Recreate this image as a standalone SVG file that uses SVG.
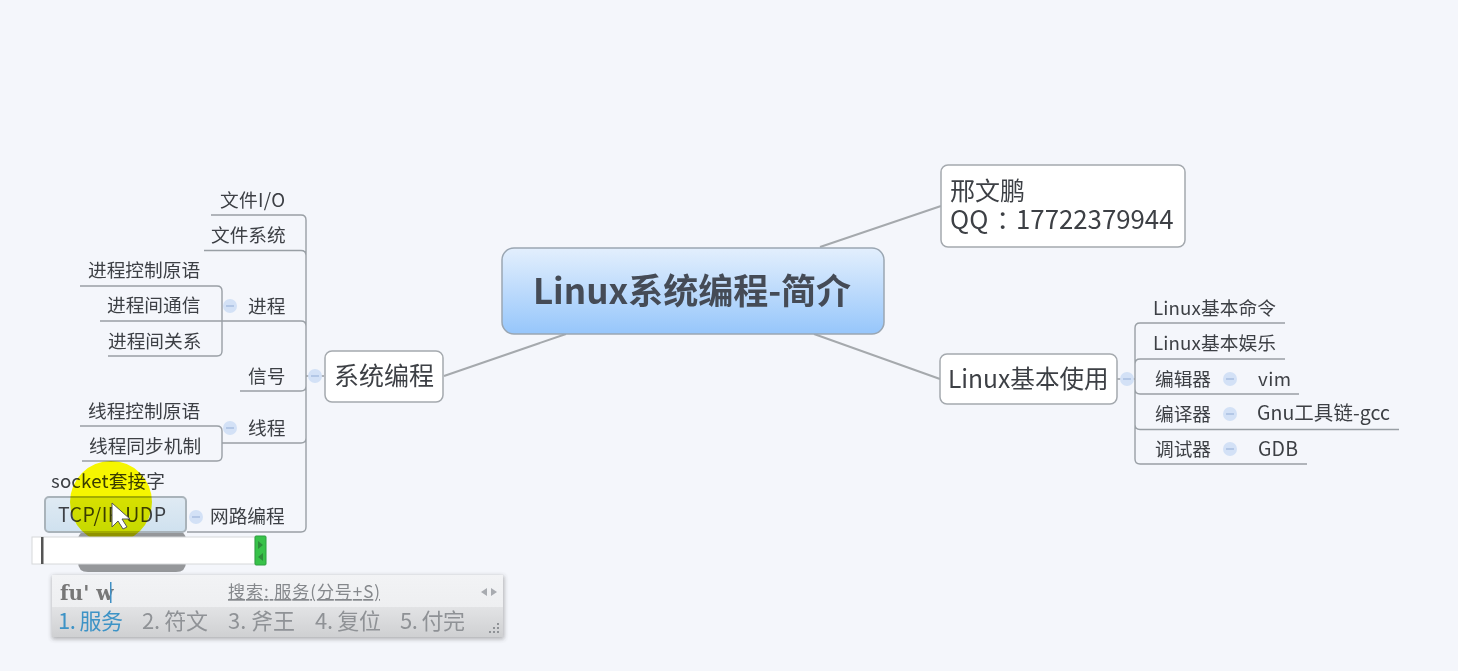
<svg xmlns="http://www.w3.org/2000/svg" width="1458" height="671" viewBox="0 0 1458 671">
<style>
text{font-family:"Noto Sans CJK SC","Noto Sans",sans-serif;fill:#3c3f44}
.s{font-size:18.7px}
.m{font-size:25px}
.l{fill:none;stroke:#999fa5;stroke-width:1.4}
.b{fill:#fff;stroke:#a4a9ae;stroke-width:1.5}
.c{fill:#d3e1f6}
.d{stroke:#9fb6dc;stroke-width:1.2}
</style>
<defs>
<linearGradient id="g" x1="0" y1="0" x2="0" y2="1"><stop offset="0" stop-color="#e3effd"/><stop offset="1" stop-color="#96c6fb"/></linearGradient>
<linearGradient id="t" x1="0" y1="0" x2="0" y2="1"><stop offset="0" stop-color="#f2f3f5"/><stop offset="1" stop-color="#eeeff1"/></linearGradient>
<linearGradient id="u" x1="0" y1="0" x2="0" y2="1"><stop offset="0" stop-color="#e2e3e5"/><stop offset="1" stop-color="#cfd0d2"/></linearGradient>
<linearGradient id="tb" x1="0" y1="0" x2="0" y2="1"><stop offset="0" stop-color="#dfeaf3"/><stop offset="1" stop-color="#cfe1ef"/></linearGradient>
<filter id="sh" x="-5%" y="-10%" width="110%" height="125%"><feGaussianBlur stdDeviation="2"/></filter>
<filter id="bl" x="0" y="0" width="1458" height="671" filterUnits="userSpaceOnUse"><feGaussianBlur stdDeviation="0.6"/></filter>
</defs>
<rect width="1458" height="671" fill="#f4f6fb"/>
<g filter="url(#bl)">
<g id="connectors">
<path class="l" d="M566 334L444 376M820 247L941 206M814 334L940 379" style="stroke:#a5a9ad;stroke-width:2"/>
<path class="l" d="M211 215H301Q306 215 306 220V527Q306 532 301 532H187M204 250.500H301Q306 250.500 306 255.500M100 321H301Q306 321 306 326M240 391H301Q306 391 306 386M222 443H301Q306 443 306 438M306 376H324"/>
<path class="l" d="M80 286H217Q222 286 222 291V351Q222 356 217 356H108M80 426H217Q222 426 222 431V456Q222 461 217 461H82"/>
<path class="l" d="M1117 379H1135M1285 323H1140Q1135 323 1135 328V459Q1135 464 1140 464H1307M1285 359H1140Q1135 359 1135 364M1299 394H1140Q1135 394 1135 389M1399 429.500H1140Q1135 429.500 1135 424.500"/>
</g>
<g id="root"><rect x="502" y="248" width="382" height="86" rx="12" fill="url(#g)" stroke="#9aa6b2" stroke-width="1.500"/><text x="692" y="304" text-anchor="middle" font-size="35" font-weight="700" style="fill:#454c57">Linux系统编程-简介</text></g>
<g id="author"><rect class="b" x="941" y="165" width="244" height="82" rx="7"/><text class="m" x="950" y="200">邢文鹏</text><text class="m" x="950" y="229" style="font-size:25.800px">QQ<tspan dx="8">：</tspan><tspan x="1016">17722379944</tspan></text></g>
<g id="sys"><rect class="b" x="325" y="351" width="118" height="51" rx="7"/><text class="m" x="334" y="385">系统编程</text></g>
<g id="basic"><rect class="b" x="940" y="354" width="177" height="50" rx="7"/><text class="m" x="948" y="388" style="font-size:24.600px">Linux基本使用</text></g>
<g id="collapse-markers">
<circle class="c" cx="315" cy="376" r="7"/><path class="d" d="M311 376H319"/>
<circle class="c" cx="230" cy="306" r="7"/><path class="d" d="M226 306H234"/>
<circle class="c" cx="230" cy="428" r="7"/><path class="d" d="M226 428H234"/>
<circle class="c" cx="196" cy="517" r="7"/><path class="d" d="M192 517H200"/>
<circle class="c" cx="1127" cy="379" r="7"/><path class="d" d="M1123 379H1131"/>
<circle class="c" cx="1230" cy="379" r="7"/><path class="d" d="M1226 379H1234"/>
<circle class="c" cx="1230" cy="414" r="7"/><path class="d" d="M1226 414H1234"/>
<circle class="c" cx="1230" cy="449" r="7"/><path class="d" d="M1226 449H1234"/>
</g>
<g id="n-file-io"><text class="s" x="220" y="207" textLength="65">文件I/O</text></g>
<g id="n-fs"><text class="s" x="211" y="242">文件系统</text></g>
<g id="n-proc"><text class="s" x="248" y="313">进程</text></g>
<g id="n-sig"><text class="s" x="248" y="383">信号</text></g>
<g id="n-thr"><text class="s" x="248" y="435">线程</text></g>
<g id="n-net"><text class="s" x="210" y="523">网路编程</text></g>
<g id="n-p1"><text class="s" x="88" y="277">进程控制原语</text></g>
<g id="n-p2"><text class="s" x="107" y="312">进程间通信</text></g>
<g id="n-p3"><text class="s" x="108" y="348">进程间关系</text></g>
<g id="n-t1"><text class="s" x="88" y="418">线程控制原语</text></g>
<g id="n-t2"><text class="s" x="89" y="453">线程同步机制</text></g>
<g id="n-l1"><text class="s" x="1153" y="315" textLength="123">Linux基本命令</text></g>
<g id="n-l2"><text class="s" x="1153" y="350" textLength="123">Linux基本娱乐</text></g>
<g id="n-l3"><text class="s" x="1155" y="386">编辑器</text></g>
<g id="n-l4"><text class="s" x="1155" y="421">编译器</text></g>
<g id="n-l5"><text class="s" x="1155" y="456">调试器</text></g>
<g id="n-vim"><text class="s" x="1258" y="386" textLength="33">vim</text></g>
<g id="n-gcc"><text class="s" x="1257" y="420" style="font-size:19.500px" textLength="133">Gnu工具链-gcc</text></g>
<g id="n-gdb"><text class="s" x="1258" y="456" style="font-size:19.500px" textLength="40">GDB</text></g>
<path d="M78 540Q78 531 88 531H176Q186 531 186 540V562Q186 572 176 572H88Q78 572 78 562Z" fill="#95979a"/>
<g id="n-socket"><text class="s" x="51" y="488" textLength="114">socket套接字</text></g>
<g id="n-tcp"><rect x="45" y="497" width="141" height="35" rx="4" fill="url(#tb)" stroke="#a9b3ba" stroke-width="2"/><text class="s" x="58" y="522" style="font-size:19.500px" textLength="108">TCP/IP UDP</text></g>
<circle cx="111" cy="502" r="41" fill="#f6f600" style="mix-blend-mode:multiply"/>
<path d="M112 503V527L118 521L123 529L127 527L122 519L130 519Z" fill="#fff" stroke="#555" stroke-width="1"/>
<g id="edit-box"><rect x="32" y="537" width="223" height="27" fill="#fff" stroke="#d6d8da"/><rect x="41" y="537" width="2.500" height="27" fill="#555"/><rect x="255" y="536" width="11" height="29" rx="1" fill="#38c24a" stroke="#2e9e3e"/><path d="M258 541L263 545L258 549ZM263 553L258 557L263 561Z" fill="#2d8c3a"/></g>
<g id="ime">
<rect x="52" y="576" width="452" height="63" fill="#555" opacity=".45" filter="url(#sh)"/>
<rect x="52" y="575" width="451" height="32" fill="url(#t)"/>
<rect x="52" y="607" width="451" height="30" fill="url(#u)"/>
<text x="60" y="600" font-size="20" font-weight="700" style='font-family:"DejaVu Serif","Liberation Serif",serif;fill:#777'>fu' w</text>
<rect x="110" y="582" width="1.500" height="21" fill="#3f8fc4"/>
<text x="228" y="598" font-size="17" text-decoration="underline" textLength="152" style="fill:#85888c">搜索: 服务(分号+S)</text>
<path d="M487 588L481 592L487 596ZM491 588L497 592L491 596Z" fill="#a8abb0"/>
<text x="58" y="629" font-size="22" textLength="65" style="fill:#3d93c6">1. 服务</text>
<text x="142" y="629" font-size="22" textLength="66" style="fill:#8f9296">2. 符文</text>
<text x="228" y="629" font-size="22" textLength="67" style="fill:#8f9296">3. 斧王</text>
<text x="315" y="629" font-size="22" textLength="66" style="fill:#8f9296">4. 复位</text>
<text x="400" y="629" font-size="22" textLength="65" style="fill:#8f9296">5. 付完</text>
<path d="M497 623h2v2h-2zM493 627h2v2h-2zM497 627h2v2h-2zM489 631h2v2h-2zM493 631h2v2h-2zM497 631h2v2h-2z" fill="#8f9296"/>
</g>
</g>
</svg>
